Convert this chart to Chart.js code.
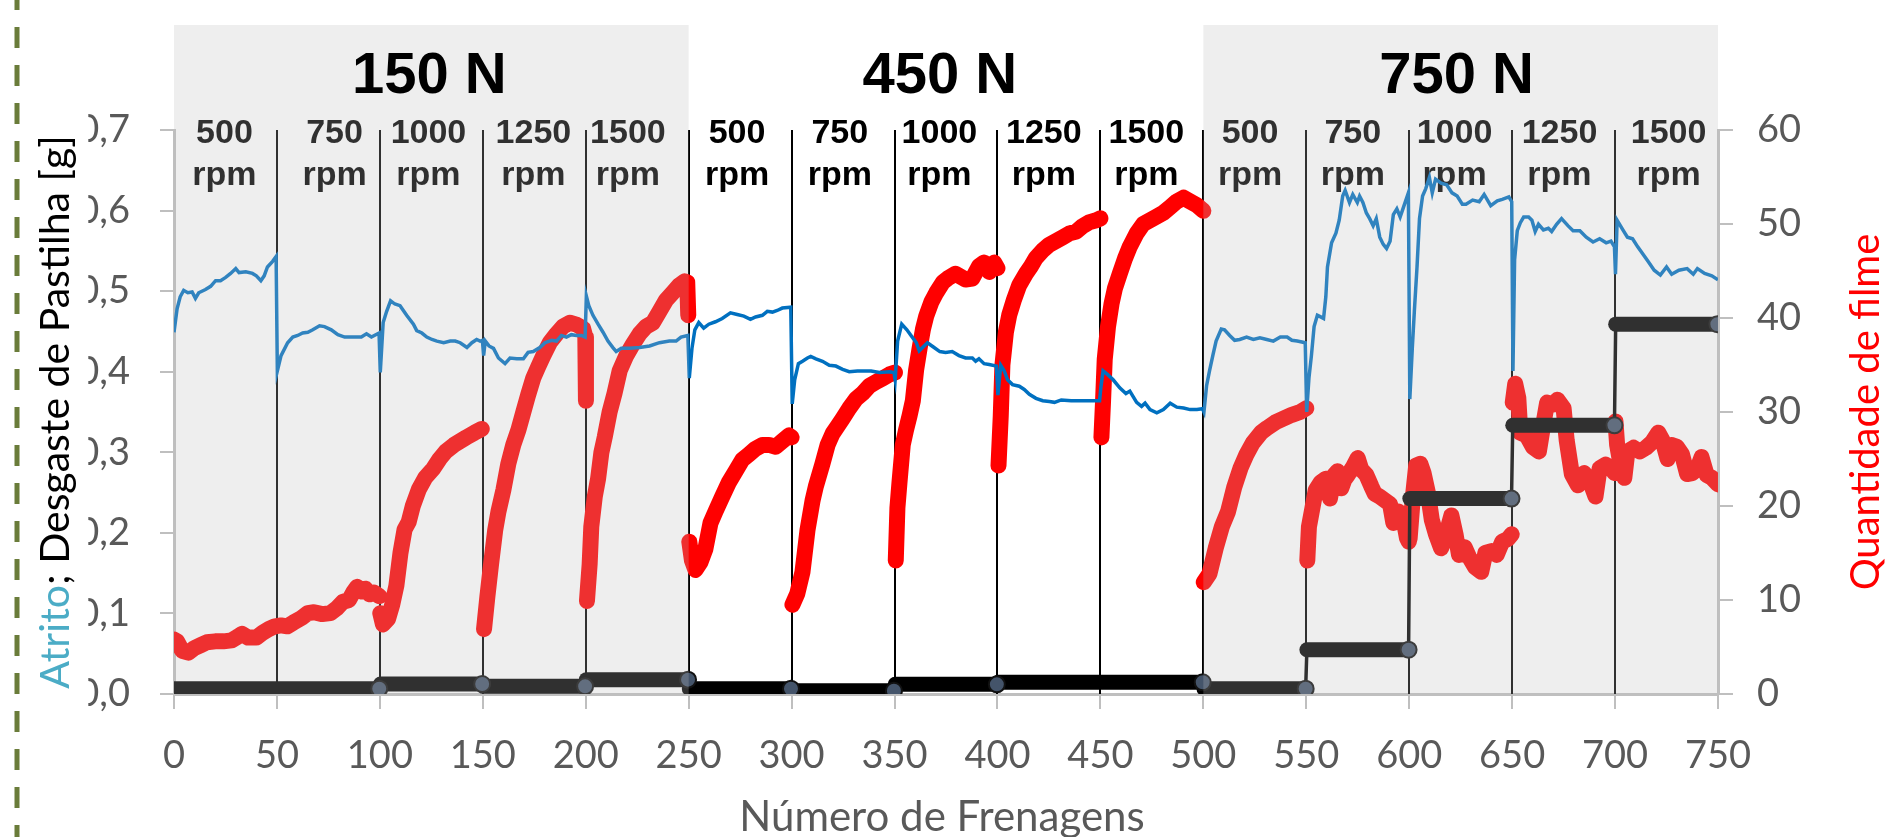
<!DOCTYPE html>
<html>
<head>
<meta charset="utf-8">
<script src="https://cdn.jsdelivr.net/npm/chart.js@4.4.1/dist/chart.umd.min.js"></script>
<style>
  html, body { margin: 0; padding: 0; background: #fff; }
</style>
</head>
<body>
<canvas id="grafico" width="1889" height="837"></canvas>
<script>
// eixo x: número de frenagens (0 a 750)
const separadores = [50, 100, 150, 200, 250, 300, 350, 400, 450, 500, 550, 600, 650, 700];
const faixasCinza = [[0, 250], [500, 750]];
const cargaTexto = ["150 N", "450 N", "750 N"];
const cargaX = [124, 372, 623];
const rpmTexto = ["500", "750", "1000", "1250", "1500"];
const rpmX = [24.5, 78, 123.6, 174.6, 220.5, 273.5, 323.4, 371.8, 422.5, 472.3, 522.7, 572.6, 622, 673, 726];

// atrito (eixo esquerdo)
const atrito150 = [
  [0,0.449],[1.5,0.478],[3,0.493],[4.7,0.501],[6.7,0.498],[8.8,0.499],[10.4,0.491],[12,0.498],[15.3,0.502],[17.8,0.506],
  [20.2,0.513],[22.6,0.513],[25.1,0.517],[27.5,0.522],[30,0.528],[31.6,0.523],[34.9,0.524],[38.1,0.522],[40,0.519],[42.2,0.513],
  [43.8,0.519],[45.4,0.530],[47.9,0.537],[49.6,0.543],
  [50.2,0.401],[52,0.420],[55.2,0.436],[57.7,0.443],[60.1,0.445],[62.5,0.448],[65,0.449],[67.4,0.452],[70.7,0.457],[73.1,0.456],
  [76.4,0.452],[79.6,0.446],[82.9,0.443],[86.2,0.443],[89.4,0.443],[91,0.443],[93.5,0.447],[95.9,0.443],[99.6,0.448],
  [100.2,0.399],[101.6,0.461],[103.3,0.475],[105.2,0.488],[107.3,0.484],[109.8,0.482],[113,0.470],[116.3,0.459],[117.9,0.451],
  [120.4,0.448],[122.8,0.443],[125.3,0.440],[127.7,0.438],[131,0.436],[134.2,0.438],[136.6,0.438],[139,0.436],[142.3,0.430],
  [144.7,0.436],[147,0.440],[148.7,0.438],[149.8,0.439],
  [150.4,0.420],[151.2,0.438],[153,0.432],[155.2,0.429],[157.6,0.417],[160.8,0.410],[163.2,0.417],[166.5,0.416],[169.7,0.416],
  [172,0.424],[174.5,0.425],[177.7,0.430],[180.2,0.436],[183.4,0.439],[185.8,0.438],[188.2,0.445],[190.6,0.443],[193,0.446],
  [195.5,0.445],[197.9,0.445],[199.7,0.443],
  [200.3,0.494],[201.5,0.482],[203.5,0.470],[206,0.459],[208.4,0.449],[210.8,0.438],[213.2,0.430],[214.8,0.425],[217.3,0.429],
  [221.3,0.429],[226.1,0.430],[231,0.432],[235.8,0.436],[240.6,0.438],[243.9,0.438],[246.3,0.443],[249.6,0.445]
];
const atrito450 = [
  [250.3,0.392],[251.6,0.429],[253,0.452],[254.9,0.461],[257.3,0.454],[259.8,0.459],[263,0.462],[266.3,0.466],[270.3,0.473],
  [273.6,0.471],[276.8,0.469],[280,0.465],[282.5,0.468],[285.8,0.470],[288.2,0.475],[290.7,0.474],[293,0.476],[295.5,0.479],[299.6,0.480],
  [300.3,0.360],[301.5,0.390],[303.3,0.410],[305.3,0.413],[307.7,0.417],[309.3,0.419],[311.8,0.416],[315,0.413],[318.3,0.408],
  [321.5,0.407],[324.8,0.403],[328,0.400],[332,0.401],[335.4,0.401],[338.6,0.401],[342.7,0.399],[347.6,0.400],[349.7,0.399],
  [350.3,0.390],[351.5,0.438],[353.5,0.459],[356,0.452],[358,0.445],[360.6,0.436],[362,0.426],[364,0.431],[366,0.436],[368.7,0.431],
  [372,0.425],[374.8,0.424],[378,0.425],[381.3,0.420],[384.5,0.417],[387.8,0.417],[389.4,0.413],[391,0.416],[393.5,0.410],[396,0.409],[399.5,0.407],
  [400.2,0.371],[401.6,0.408],[403.3,0.401],[404.9,0.390],[407.3,0.384],[410.6,0.382],[413,0.378],[415.5,0.372],[418.7,0.367],
  [422,0.364],[425.2,0.363],[427.7,0.362],[431,0.365],[435.8,0.364],[449.6,0.364],
  [450.2,0.380],[451.3,0.401],[453.7,0.396],[456.2,0.390],[459.4,0.380],[462.4,0.373],[464.3,0.376],[467.6,0.362],[470,0.357],
  [471.7,0.361],[474.1,0.353],[477.4,0.349],[480.6,0.353],[483.9,0.361],[487.1,0.356],[490.4,0.355],[493.6,0.353],[496.9,0.353],[499.6,0.354]
];
const atrito750 = [
  [500.3,0.350],[501.6,0.383],[503,0.401],[504.6,0.420],[506.2,0.438],[508.7,0.453],[510.3,0.452],[512.8,0.445],[515.2,0.439],
  [517.7,0.440],[521,0.443],[524.3,0.440],[527.5,0.442],[530.8,0.440],[534,0.438],[537.4,0.443],[540.7,0.443],[543,0.439],[545.6,0.438],[549.5,0.436],
  [550.2,0.350],[551.3,0.392],[552.5,0.420],[553.8,0.456],[555.4,0.470],[557,0.468],[558.4,0.466],[559.5,0.493],[560.3,0.530],
  [562.3,0.560],[564.4,0.572],[566,0.588],[567.7,0.618],[568.9,0.625],[571,0.610],[572.6,0.620],[574.8,0.610],[575.9,0.618],
  [577.5,0.610],[579.2,0.597],[580.8,0.590],[582.5,0.581],[584,0.590],[585.7,0.567],[587.4,0.558],[589,0.553],[590.7,0.562],
  [592.3,0.595],[594,0.602],[595.6,0.592],[597.2,0.604],[599.6,0.622],
  [600.3,0.366],[601.5,0.429],[602.5,0.475],[603.8,0.530],[605,0.590],[606.5,0.618],[608,0.627],[609.8,0.641],[611.2,0.622],
  [612.8,0.639],[615.5,0.634],[618.2,0.632],[620.8,0.622],[623.3,0.618],[625.8,0.608],[627.6,0.608],[630.8,0.613],[634,0.611],
  [636.4,0.620],[639.6,0.606],[642.8,0.612],[645.2,0.614],[648.4,0.617],[649.8,0.611],
  [650.4,0.401],[651.2,0.539],[652.5,0.575],[654,0.585],[655.6,0.592],[658,0.592],[659.6,0.588],[661.2,0.574],[662.8,0.583],
  [665.2,0.576],[667.6,0.578],[669.2,0.574],[671.6,0.583],[674,0.590],[677.2,0.581],[679.6,0.575],[682.9,0.575],[686,0.567],
  [689.3,0.561],[692.5,0.565],[695.7,0.560],[698,0.562],[699.7,0.555],
  [700.2,0.521],[701,0.588],[703.8,0.576],[706,0.567],[708.5,0.565],[711,0.555],[713.5,0.546],[716,0.537],[719,0.526],[722,0.520],
  [725,0.530],[727.5,0.521],[731,0.526],[735,0.528],[738,0.521],[740,0.528],[743.5,0.522],[747,0.519],[750,0.514]
];

// quantidade de filme (eixo direito), um trecho por ensaio
const filme150 = [
  [[0,5.8],[1.5,5.6],[4,4.6],[7,4.4],[10,4.9],[13,5.2],[16,5.5],[20,5.6],[24,5.6],[28,5.7],[31,6.1],[33,6.4],[36,6.0],[40,6.0],
   [43,6.5],[46,6.9],[49,7.2],[52,7.3],[55,7.2],[58,7.6],[62,8.1],[65,8.6],[68,8.7],[72,8.5],[76,8.6],[79,9.1],[82,9.8],[85,10.0],
   [87,10.8],[89,11.4],[91,10.9],[93,11.2],[95,10.6],[97,10.8],[99.7,10.4]],
  [[100.2,8.6],[101.5,7.4],[104,8.0],[106,9.5],[108,11.5],[110,15.0],[112,17.5],[114,18.3],[116,20.0],[119,21.8],[122,23.0],
   [126,24.0],[129,25.0],[132,25.8],[136,26.5],[139,26.9],[142,27.3],[146,27.8],[149.5,28.2]],
  [[150.6,6.9],[152.2,10.3],[154,13.8],[156,17.4],[157.6,19.4],[160,21.7],[162.4,24.5],[164.8,26.5],[167.3,28.1],[169.7,30.0],
   [172,31.8],[174.5,33.6],[176.9,34.8],[179.4,36.0],[182.6,37.4],[185.8,38.3],[189,39.1],[192.3,39.5],[195.5,39.3],[198.7,38.9],
   [199.8,38.0],[200.1,31.2]],
  [[200.6,9.9],[201.9,13.8],[202.7,17.8],[204.4,21.0],[206,22.9],[207.6,25.7],[209.2,27.3],[211.6,30.0],[214,32.0],[216.5,34.4],
   [219.7,36.0],[222.9,37.2],[226.1,38.3],[229.4,39.1],[232.6,39.5],[235.8,40.7],[239,41.9],[242.3,42.7],[245.5,43.5],[248,43.9],
   [249.3,43.8],[249.8,40.3]]
];
const filme450 = [
  [[250.3,16.2],[251.6,14.2],[253.3,13.2],[255.7,14.0],[258.1,15.4],[260.6,18.2],[263,19.4],[266.3,21.0],[269.5,22.5],[272.8,23.7],
   [276,24.9],[279.3,25.5],[282.5,26.1],[285.8,26.5],[289,26.5],[292.3,26.3],[295.5,26.9],[298.8,27.5],[300,27.3]],
  [[300.4,9.5],[302.8,10.7],[305.3,13.0],[307.7,17.4],[310.2,20.6],[311.8,22.1],[313.4,23.3],[315,24.5],[317.5,26.5],[319.9,27.7],
   [322.4,28.5],[324.8,29.3],[328,30.4],[331.3,31.4],[334.6,32.0],[337.9,32.8],[341.1,33.2],[344.4,33.6],[347.6,34.0],[350.2,34.2]],
  [[350.6,14.2],[351.4,19.8],[352.4,22.5],[354,26.5],[355.6,28.1],[357.3,29.6],[358.9,31.2],[360.5,34.5],[362.2,36.8],[363.8,38.8],
   [365.4,40.2],[367.9,41.7],[370.3,42.7],[373.5,43.8],[376.4,44.3],[379.6,44.7],[384.5,44.1],[387.8,44.2],[391,45.5],[393.5,45.9],
   [396,44.9],[398.4,45.9],[400,45.3]],
  [[400.5,24.3],[401.6,29.6],[402.4,35.0],[404.1,38.5],[405.7,40.3],[408.1,42.0],[410.6,43.5],[413.8,44.7],[416.3,45.5],[418.7,46.4],
   [422,47.2],[425.2,47.8],[428.5,48.2],[431.8,48.6],[435,49.0],[438.3,49.2],[441.5,49.8],[444.8,50.2],[448,50.4],[450,50.6]],
  [[450.5,27.3],[451.3,31.2],[452.1,35.6],[453.7,39.1],[455.4,41.5],[457,43.1],[459.4,44.7],[461.9,46.3],[464.3,47.6],[467.6,49.0],
   [470.8,50.0],[474.1,50.4],[477.4,50.8],[480.6,51.2],[483.9,51.8],[487.1,52.4],[490.4,52.8],[493.6,52.4],[496.9,52.0],[500,51.4]]
];
const filme750 = [
  [[500.2,11.9],[503,12.8],[506,15.5],[509,17.8],[512,19.4],[515,22.0],[518,24.0],[521,25.5],[524,26.7],[528,27.8],[531,28.3],
   [535,28.9],[539,29.3],[543,29.7],[547,30.0],[550,30.4]],
  [[550.5,14.2],[551.3,17.8],[553,19.8],[554.6,21.7],[557,22.5],[559.5,22.9],[561.5,20.8],[563.6,23.3],[565.2,23.7],[567,21.9],
   [568.5,22.8],[570.2,23.3],[572.6,24.1],[575,25.1],[576.7,23.9],[579.2,23.3],[581.6,22.1],[583.3,21.3],[585.7,21.0],[588.2,20.6],
   [590.7,20.2],[592.3,18.2],[594.8,19.4],[597.2,18.6],[598.9,16.6],[599.8,16.2]],
  [[600.2,16.5],[601.8,21.0],[603.4,24.3],[605.4,24.5],[607,23.5],[609,21.5],[611,18.5],[613,17.0],[615.5,15.5],[618,17.0],
   [620.5,19.0],[622.5,17.0],[624.2,14.8],[627,15.6],[629,14.6],[632,13.5],[635,13.0],[637,15.0],[640,15.2],[642.5,14.8],
   [645.2,16.2],[648,16.5],[649.8,17.0]],
  [[650.3,31.0],[651.5,33.0],[653,31.5],[654,27.8],[657,27.5],[660,26.3],[663,25.8],[665,28.5],[667,31.0],[670,30.8],[672,31.3],
   [675,30.4],[676.5,27.0],[679,23.4],[682,22.2],[685,23.5],[688,22.5],[690.5,21.0],[692.5,24.0],[695.5,24.4],[698,24.0],[699.8,23.5]],
  [[700.2,29.0],[701,26.5],[703,24.0],[704.5,23.0],[706,25.8],[709,26.2],[712,25.8],[715,26.2],[718,26.8],[721,27.8],[723,27.0],
   [725.5,25.0],[727.5,26.5],[730,26.3],[732.5,25.5],[735,23.4],[737.5,23.5],[740,24.0],[742,25.2],[744.5,23.3],[747,23.0],[750,22.3]]
];

// desgaste de pastilha (eixo esquerdo), degraus
const desgasteInicio = [0, 100, 150, 200, 250, 300, 350, 400, 500, 550, 600, 650, 700];
const desgasteFim = [100, 150, 200, 250, 300, 350, 400, 500, 550, 600, 650, 700, 750];
const desgasteValor = [0.0066, 0.0124, 0.0095, 0.0178, 0.0066, 0.0040, 0.0120, 0.0145, 0.0066, 0.0550, 0.2425, 0.3335, 0.4590];

const pares = (arr) => arr.map(p => ({ x: p[0], y: p[1] }));
const comQuebras = (segs) => {
  const out = [];
  segs.forEach((s, i) => {
    if (i > 0) out.push({ x: s[0][0] - 0.05, y: null }); // quebra entre ensaios
    s.forEach(p => out.push({ x: p[0], y: p[1] }));
  });
  return out;
};

const dadosAtrito = pares([...atrito150, ...atrito450, ...atrito750]);
const dadosFilme = comQuebras([...filme150, ...filme450, ...filme750]);
const dadosDesgaste = [];
desgasteValor.forEach((v, i) => {
  dadosDesgaste.push({ x: desgasteInicio[i] + 0.3, y: v });
  dadosDesgaste.push({ x: desgasteFim[i] - 0.3, y: v });
});

const fonteEixo = { family: "Lato", size: 38 };
const CINZA_EIXO = "#BFBFBF";

// desenhos extras: linhas verticais, rótulos rpm, faixas cinza, títulos
const decoracao = {
  id: "decoracao",
  beforeDatasetsDraw(chart) {
    const { ctx, chartArea: a, scales: { x } } = chart;
    ctx.save();
    ctx.strokeStyle = "#000";
    ctx.lineWidth = 2;
    separadores.forEach(v => {
      const px = Math.round(x.getPixelForValue(v));
      ctx.beginPath();
      ctx.moveTo(px, a.top);
      ctx.lineTo(px, a.bottom);
      ctx.stroke();
    });
    ctx.fillStyle = "#000";
    ctx.font = "bold 34px 'Liberation Sans', Arial, sans-serif";
    ctx.textAlign = "center";
    ctx.textBaseline = "alphabetic";
    rpmX.forEach((v, i) => {
      const px = x.getPixelForValue(v);
      ctx.fillText(rpmTexto[i % 5], px, 143);
      ctx.fillText("rpm", px, 185);
    });
    ctx.restore();
  },
  afterDatasetsDraw(chart) {
    const { ctx, chartArea: a, scales: { x } } = chart;
    ctx.save();
    // faixas cinza semi-transparentes (150 N e 750 N)
    ctx.fillStyle = "rgba(188,188,188,0.255)";
    faixasCinza.forEach(([ini, fim]) => {
      const x0 = x.getPixelForValue(ini), x1 = x.getPixelForValue(fim);
      ctx.fillRect(x0, 25, x1 - x0, a.bottom - 25);
    });
    // cargas
    ctx.fillStyle = "#000";
    ctx.font = "bold 58px 'Liberation Sans', Arial, sans-serif";
    ctx.textAlign = "center";
    ctx.textBaseline = "alphabetic";
    cargaTexto.forEach((t, i) => ctx.fillText(t, x.getPixelForValue(cargaX[i]), 93));

    // caixa branca do título esquerdo (corta os rótulos do eixo)
    ctx.font = "38px Lato";
    const larg = ctx.measureText("0,7").width;
    const dirRotulo = a.left - 14 - 30;
    const corte = dirRotulo - larg + ctx.measureText("0").width * 0.5;
    ctx.fillStyle = "#fff";
    ctx.fillRect(30, a.top - 40, corte - 30, a.bottom - a.top + 80);

    const meioY = (a.top + a.bottom) / 2;
    ctx.font = "41px Lato";
    ctx.textBaseline = "middle";
    ctx.textAlign = "left";
    ctx.save();
    ctx.translate(56, meioY);
    ctx.rotate(-Math.PI / 2);
    const t1 = "Atrito", t2 = "; Desgaste de Pastilha [g]";
    const w1 = ctx.measureText(t1).width, w2 = ctx.measureText(t2).width;
    ctx.fillStyle = "#4BACC6";
    ctx.fillText(t1, -(w1 + w2) / 2, 0);
    ctx.fillStyle = "#000";
    ctx.fillText(t2, -(w1 + w2) / 2 + w1, 0);
    ctx.restore();

    ctx.font = "40px Lato";
    ctx.save();
    ctx.translate(1866, meioY);
    ctx.rotate(-Math.PI / 2);
    ctx.textAlign = "center";
    ctx.fillStyle = "#FF0000";
    ctx.fillText("Quantidade de filme", 0, 0);
    ctx.restore();

    ctx.font = "42px Lato";
    ctx.textAlign = "center";
    ctx.textBaseline = "alphabetic";
    ctx.fillStyle = "#595959";
    ctx.fillText("Número de Frenagens", (a.left + a.right) / 2 - 4, 831);

    // borda tracejada verde à esquerda
    ctx.strokeStyle = "#6A7C3A";
    ctx.lineWidth = 5;
    ctx.setLineDash([21, 17]);
    ctx.lineDashOffset = 11;
    ctx.beginPath();
    ctx.moveTo(17, 0);
    ctx.lineTo(17, 837);
    ctx.stroke();
    ctx.restore();
  }
};

new Chart(document.getElementById("grafico"), {
  type: "line",
  data: {
    datasets: [
      {
        label: "Atrito",
        data: dadosAtrito,
        yAxisID: "y",
        borderColor: "#0070C0",
        borderWidth: 3.5,
        pointRadius: 0,
        order: 0,
      },
      {
        label: "Desgaste de Pastilha",
        data: dadosDesgaste,
        yAxisID: "y",
        borderColor: "#000",
        borderCapStyle: "round",
        segment: {
          borderWidth: (c) => (c.p0.parsed.y === c.p1.parsed.y ? 15 : 3.5),
        },
        pointRadius: (c) => (c.dataIndex % 2 === 1 ? 8 : 0),
        pointBackgroundColor: "#44546A",
        pointBorderColor: "#111",
        pointBorderWidth: 2,
        order: 1,
      },
      {
        label: "Quantidade de filme",
        data: dadosFilme,
        yAxisID: "y2",
        borderColor: "#FF0000",
        borderWidth: 16,
        borderCapStyle: "round",
        borderJoinStyle: "round",
        pointRadius: 0,
        order: 2,
      },
    ],
  },
  options: {
    responsive: false,
    devicePixelRatio: 1,
    animation: false,
    layout: { padding: { top: 130, left: 0, right: 0, bottom: 0 } },
    plugins: { legend: { display: false }, tooltip: { enabled: false } },
    scales: {
      x: {
        type: "linear",
        min: 0,
        max: 750,
        ticks: { stepSize: 50, color: "#595959", font: fonteEixo, padding: 24, maxRotation: 0, autoSkip: false },
        grid: { drawOnChartArea: false, drawTicks: true, tickLength: 15, color: CINZA_EIXO, lineWidth: 2 },
        border: { color: CINZA_EIXO, width: 3 },
        afterFit: (s) => { s.height = 143; },
      },
      y: {
        position: "left",
        min: 0,
        max: 0.7,
        ticks: {
          stepSize: 0.1,
          color: "#595959",
          font: fonteEixo,
          padding: 30,
          callback: (v) => v.toFixed(1).replace(".", ","),
        },
        grid: { drawOnChartArea: false, tickLength: 14, color: CINZA_EIXO, lineWidth: 2 },
        border: { color: CINZA_EIXO, width: 3 },
        afterFit: (s) => { s.width = 174; },
      },
      y2: {
        position: "right",
        min: 0,
        max: 60,
        ticks: { stepSize: 10, color: "#595959", font: fonteEixo, padding: 24 },
        grid: { drawOnChartArea: false, tickLength: 15, color: CINZA_EIXO, lineWidth: 2 },
        border: { color: CINZA_EIXO, width: 3 },
        afterFit: (s) => { s.width = 171; },
      },
    },
  },
  plugins: [decoracao],
});
</script>
</body>
</html>
